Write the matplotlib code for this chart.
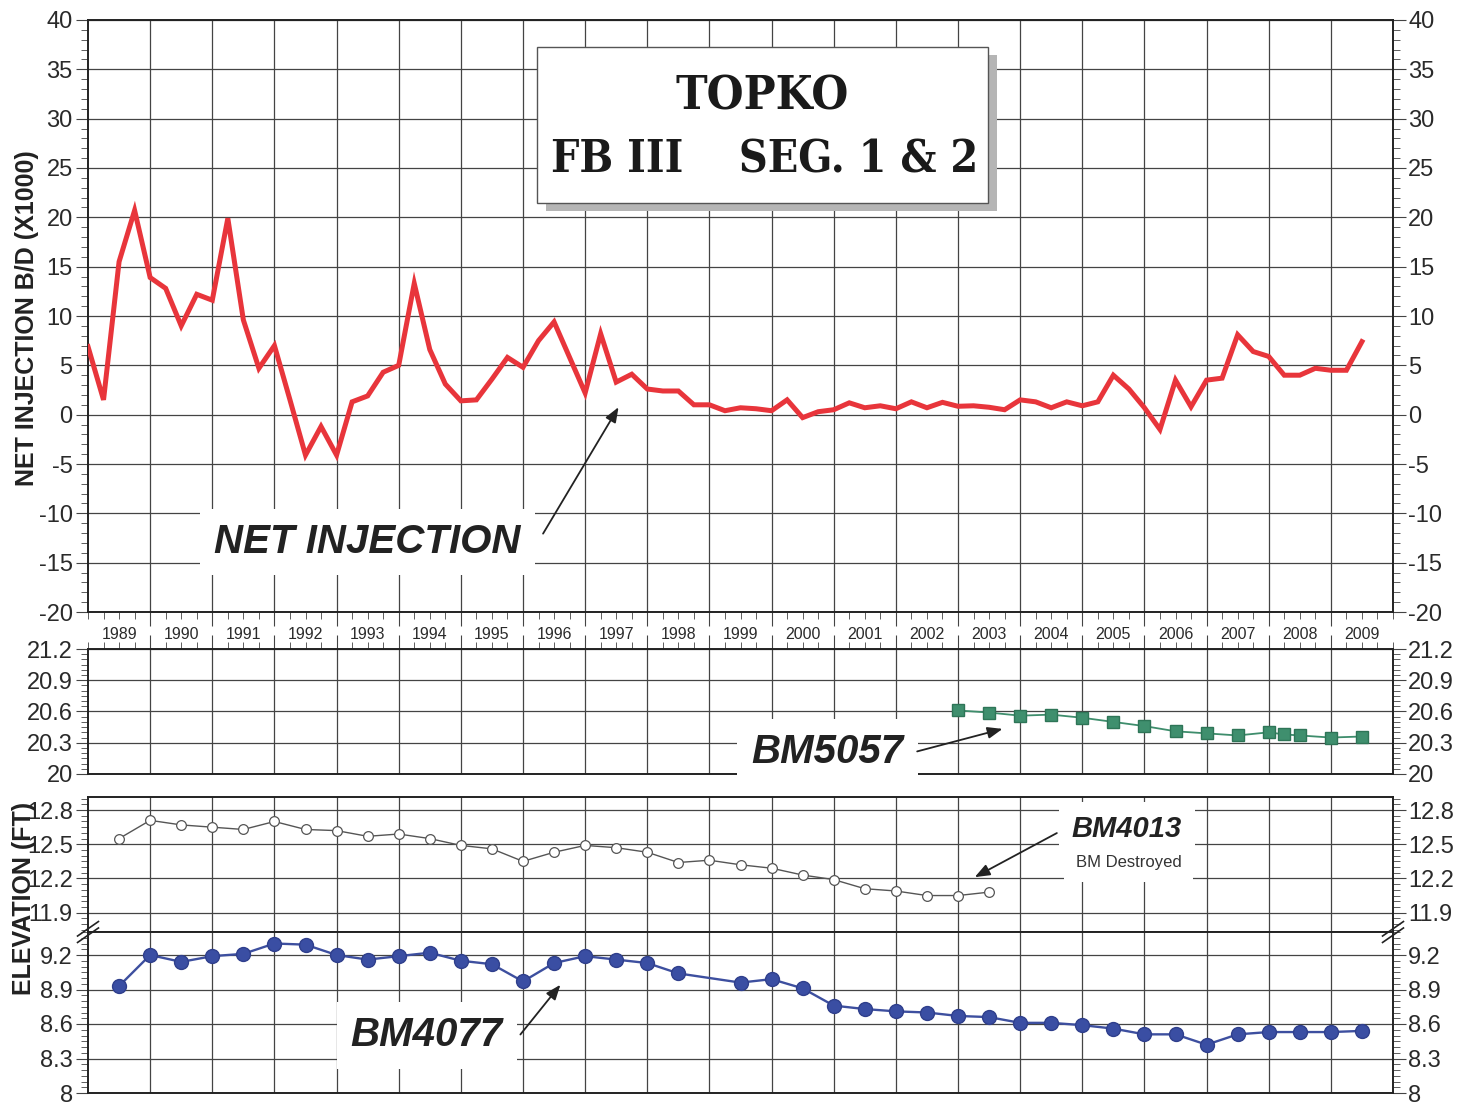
import numpy as np
import matplotlib
matplotlib.use("Agg")
import matplotlib.pyplot as plt
from matplotlib.patches import Rectangle
from matplotlib.ticker import MultipleLocator

plt.rcParams['font.family'] = ['Liberation Sans', 'DejaVu Sans']

# quarterly net injection, 1989.0 .. 2009.5 (B/D x1000)
quarter_time = np.arange(1989.0, 2009.51, 0.25)
net_injection = [
    6.9, 1.5, 15.5, 20.7,
    13.9, 12.8, 9.0, 12.2,
    11.6, 19.9, 9.6, 4.7,
    7.0, 1.5, -4.1, -1.2,
    -4.1, 1.3, 1.9, 4.3,
    5.0, 13.3, 6.6, 3.1,
    1.4, 1.5, 3.6, 5.8,
    4.8, 7.5, 9.4, 5.8,
    2.2, 8.2, 3.3, 4.1,
    2.6, 2.4, 2.4, 1.0,
    1.0, 0.4, 0.7, 0.6,
    0.4, 1.5, -0.3, 0.3,
    0.5, 1.2, 0.7, 0.9,
    0.6, 1.3, 0.7, 1.25,
    0.85, 0.9, 0.75, 0.5,
    1.5, 1.3, 0.7, 1.3,
    0.9, 1.3, 4.0, 2.6,
    0.7, -1.5, 3.5, 0.8,
    3.5, 3.7, 8.1, 6.4,
    5.9, 4.0, 4.0, 4.7,
    4.5, 4.5, 7.4,
]

bm5057_years = [2003.0, 2003.5, 2004.0, 2004.5, 2005.0, 2005.5, 2006.0, 2006.5,
                2007.0, 2007.5, 2008.0, 2008.25, 2008.5, 2009.0, 2009.5]
bm5057 = [20.61, 20.59, 20.56, 20.57, 20.54, 20.50, 20.46, 20.41,
          20.39, 20.37, 20.40, 20.38, 20.37, 20.35, 20.36]

bm4013_years = [1989.5, 1990.0, 1990.5, 1991.0, 1991.5, 1992.0, 1992.5, 1993.0,
                1993.5, 1994.0, 1994.5, 1995.0, 1995.5, 1996.0, 1996.5, 1997.0,
                1997.5, 1998.0, 1998.5, 1999.0, 1999.5, 2000.0, 2000.5, 2001.0,
                2001.5, 2002.0, 2002.5, 2003.0, 2003.5]
bm4013 = [12.55, 12.71, 12.67, 12.65, 12.63, 12.70, 12.63, 12.62,
          12.57, 12.59, 12.55, 12.49, 12.46, 12.35, 12.43, 12.49,
          12.47, 12.43, 12.34, 12.36, 12.32, 12.29, 12.23, 12.19,
          12.11, 12.09, 12.05, 12.05, 12.08]

bm4077_years = [1989.5, 1990.0, 1990.5, 1991.0, 1991.5, 1992.0, 1992.5, 1993.0,
                1993.5, 1994.0, 1994.5, 1995.0, 1995.5, 1996.0, 1996.5, 1997.0,
                1997.5, 1998.0, 1998.5, 1999.5, 2000.0, 2000.5, 2001.0, 2001.5,
                2002.0, 2002.5, 2003.0, 2003.5, 2004.0, 2004.5, 2005.0, 2005.5,
                2006.0, 2006.5, 2007.0, 2007.5, 2008.0, 2008.5, 2009.0, 2009.5]
bm4077 = [8.93, 9.20, 9.14, 9.19, 9.21, 9.30, 9.29, 9.20,
          9.16, 9.19, 9.22, 9.15, 9.12, 8.97, 9.13, 9.19,
          9.16, 9.13, 9.04, 8.96, 8.99, 8.91, 8.76, 8.73,
          8.71, 8.70, 8.67, 8.66, 8.61, 8.61, 8.59, 8.56,
          8.51, 8.51, 8.42, 8.51, 8.53, 8.53, 8.53, 8.54]

year_labels = [str(y) for y in range(1989, 2010)]
inj_ticks = list(range(-20, 41, 5))
bm5057_ticks = [20, 20.3, 20.6, 20.9, 21.2]
bm5057_labels = ['20', '20.3', '20.6', '20.9', '21.2']
bm4013_ticks = [11.9, 12.2, 12.5, 12.8]
bm4013_labels = ['11.9', '12.2', '12.5', '12.8']
bm4077_ticks = [8, 8.3, 8.6, 8.9, 9.2]
bm4077_labels = ['8', '8.3', '8.6', '8.9', '9.2']

W, H = 1463, 1103
fig = plt.figure(figsize=(W / 100, H / 100), dpi=100)


def px_box(left, top, right, bottom):
    return [left / W, 1 - bottom / H, (right - left) / W, (bottom - top) / H]


ax1 = fig.add_axes(px_box(88, 20, 1393, 612))
ax2 = fig.add_axes(px_box(88, 649, 1393, 774))
ax3 = fig.add_axes(px_box(88, 797, 1393, 932))
ax4 = fig.add_axes(px_box(88, 932, 1393, 1093))

tick_col = '#2a2a2a'


def style(ax, ticks, labels, ylim, minor):
    ax.set_xlim(1989, 2010)
    ax.set_ylim(*ylim)
    ax.set_yticks(ticks)
    ax.set_yticklabels(labels)
    ax.yaxis.set_minor_locator(MultipleLocator(minor))
    ax.set_xticks(range(1990, 2010))
    ax.xaxis.set_minor_locator(MultipleLocator(0.25))
    ax.grid(True, which='major', color='#444444', lw=0.9)
    ax.tick_params(axis='y', which='both', left=True, right=True,
                   labelleft=True, labelright=True, direction='out',
                   labelsize=17, labelcolor=tick_col, color='#444444')
    ax.tick_params(axis='y', which='major', length=9, width=0.8, pad=2)
    ax.tick_params(axis='y', which='minor', length=5, width=0.6)
    ax.tick_params(axis='x', which='both', bottom=False, labelbottom=False)
    for s in ax.spines.values():
        s.set_linewidth(1.4)
        s.set_color('#222222')


style(ax1, inj_ticks, [str(t) for t in inj_ticks], (-20, 40), 1)
style(ax2, bm5057_ticks, bm5057_labels, (20, 21.2), 0.05)
style(ax3, bm4013_ticks, bm4013_labels, (11.73, 12.915), 0.05)
style(ax4, bm4077_ticks, bm4077_labels, (8, 9.4), 0.05)

# year ticks between the top two panels
ax1.tick_params(axis='x', which='both', bottom=True, direction='out', color='#444444')
ax1.tick_params(axis='x', which='major', length=10, width=0.8)
ax1.tick_params(axis='x', which='minor', length=5, width=0.6)
ax2.tick_params(axis='x', which='both', top=True, direction='out', color='#444444')
ax2.tick_params(axis='x', which='major', length=10, width=0.8)
ax2.tick_params(axis='x', which='minor', length=5, width=0.6)

sec = ax1.secondary_xaxis('bottom')
sec.set_xticks([y + 0.5 for y in range(1989, 2010)], labels=year_labels)
sec.tick_params(length=0, pad=11, labelsize=11.5, labelcolor=tick_col)
sec.spines['bottom'].set_visible(False)

# series
ax1.plot(quarter_time, net_injection, color='#e8353b', lw=3.6,
         solid_joinstyle='miter', zorder=4)
ax2.plot(bm5057_years, bm5057, color='#3e8d6c', lw=1.3, marker='s', ms=8,
         mfc='#3f8f6e', mec='#2e7557', zorder=4)
ax3.plot(bm4013_years, bm4013, color='#555555', lw=1.0, marker='o', ms=7,
         mfc='white', mec='#555555', mew=0.9, zorder=4)
ax4.plot(bm4077_years, bm4077, color='#3d4f9f', lw=1.7, marker='o', ms=10,
         mfc='#3a4ea3', mec='#2f3f8c', zorder=4)

# title box with shadow
x0, y0, x1, y1 = 0.3441, 0.6909, 0.6897, 0.9544
ax1.add_patch(Rectangle((x0 + 0.0065, y0 - 0.014), x1 - x0, y1 - y0,
                        transform=ax1.transAxes, fc='#b5b5b5', ec='none', zorder=6))
ax1.add_patch(Rectangle((x0, y0), x1 - x0, y1 - y0, transform=ax1.transAxes,
                        fc='white', ec='#555555', lw=1.0, zorder=7))
title_font = dict(family=['DejaVu Serif Condensed', 'DejaVu Serif'],
                  weight='heavy', fontstretch='condensed', color='#1a1a1a')
ax1.text(0.5165, 0.870, 'TOPKO', transform=ax1.transAxes, ha='center',
         va='center', fontsize=34, zorder=8, **title_font)
ax1.text(0.5185, 0.7635, 'FB III    SEG. 1 & 2', transform=ax1.transAxes,
         ha='center', va='center', fontsize=32, zorder=8, **title_font)

# annotations
label_font = dict(fontsize=29, weight='bold', style='italic', color='#222222')
white = dict(boxstyle='square,pad=0.35', fc='white', ec='none')
arrow = dict(arrowstyle='-|>,head_length=0.9,head_width=0.35', color='#222222', lw=1.3)

ax1.text(1993.5, -12.9, 'NET INJECTION', ha='center', va='center', bbox=white,
         zorder=5, **label_font)
ax1.annotate('', xy=(1997.56, 1.0), xytext=(1996.3, -12.3), arrowprops=arrow, zorder=5)

ax2.text(2000.9, 20.21, 'BM5057', ha='center', va='center', bbox=white,
         zorder=5, **label_font)
ax2.annotate('', xy=(2003.76, 20.44), xytext=(2002.3, 20.21), arrowprops=arrow, zorder=5)

ax4.text(1994.45, 8.50, 'BM4077', ha='center', va='center', bbox=white,
         zorder=5, **label_font)
ax4.annotate('', xy=(1996.63, 8.96), xytext=(1995.93, 8.49), arrowprops=arrow, zorder=5)

ax3.text(2005.72, 12.63, 'BM4013', ha='center', va='center', fontsize=21,
         weight='bold', style='italic', color='#222222',
         bbox=dict(boxstyle='square,pad=0.45', fc='white', ec='none'), zorder=5)
ax3.text(2005.75, 12.34, 'BM Destroyed', ha='center', va='center', fontsize=12,
         color='#333333',
         bbox=dict(boxstyle='square,pad=0.7', fc='white', ec='none'), zorder=5)
ax3.annotate('', xy=(2003.23, 12.2), xytext=(2004.63, 12.61), arrowprops=arrow, zorder=6)

# axis-break marks on both spines at the 3rd/4th panel seam
for xa in (0.0, 1.0):
    for off in (-0.02, 0.02):
        ax4.plot([xa - 0.008, xa + 0.008], [1 + off - 0.045, 1 + off + 0.045],
                 transform=ax4.transAxes, color='#222222', lw=1.2,
                 clip_on=False, zorder=9)

# y-axis titles
fig.text(27 / W, 1 - 318 / H, 'NET INJECTION B/D (X1000)', rotation=90,
         ha='center', va='center', fontsize=18, weight='bold', color='#222222')
fig.text(24 / W, 1 - 898 / H, 'ELEVATION (FT)', rotation=90,
         ha='center', va='center', fontsize=18, weight='bold', color='#222222')

fig.savefig('out.png', dpi=100)
